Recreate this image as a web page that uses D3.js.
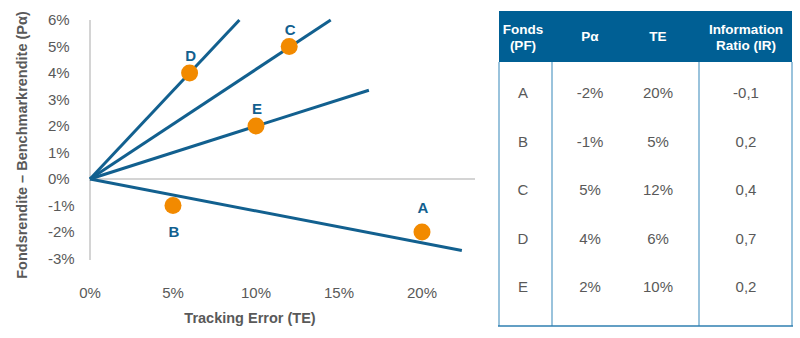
<!DOCTYPE html>
<html>
<head>
<meta charset="utf-8">
<script src="https://cdn.jsdelivr.net/npm/d3@7"></script>
<style>
  body { margin: 0; background: #fff; }
  svg { display: block; font-family: "Liberation Sans", Arial, sans-serif; }
</style>
</head>
<body>
<svg id="chart" width="800" height="338"></svg>
<script>
// funds
const funds = ["A", "B", "C", "D", "E"];
const pAlpha = [-2, -1, 5, 4, 2];
const trackingError = [20, 5, 12, 6, 10];
const infoRatio = ["-0,1", "0,2", "0,4", "0,7", "0,2"];

// ratio lines from the origin (end point TE, Pα)
const lineEndTE = [9, 14.5, 16.8, 22.4];
const lineEndPA = [6, 6, 3.35, -2.7];

const xTicks = [0, 5, 10, 15, 20];
const yTicks = [6, 5, 4, 3, 2, 1, 0, -1, -2, -3];

const tableHeaders = [["Fonds", "(PF)"], ["Pα"], ["TE"], ["Information", "Ratio (IR)"]];

const svg = d3.select("#chart");
const blue = "#12608f";
const orange = "#f28a00";
const grey = "#595959";

const x = d3.scaleLinear().domain([0, 20]).range([90, 422]);
const y = d3.scaleLinear().domain([0, 6]).range([179, 20]);

// axes lines
svg.append("line")
  .attr("x1", x(0)).attr("x2", 475)
  .attr("y1", y(0)).attr("y2", y(0))
  .attr("stroke", "#d4d4d4").attr("stroke-width", 2);
svg.append("line")
  .attr("x1", x(0)).attr("x2", x(0))
  .attr("y1", 20).attr("y2", 260)
  .attr("stroke", "#d4d4d4").attr("stroke-width", 2);

svg.selectAll(".ytick")
  .data(yTicks)
  .enter().append("text")
  .attr("x", 48)
  .attr("y", d => y(d))
  .attr("dy", "0.35em")
  .attr("font-size", "15px")
  .attr("fill", grey)
  .text(d => d + "%");

svg.selectAll(".xtick")
  .data(xTicks)
  .enter().append("text")
  .attr("x", d => x(d))
  .attr("y", 293)
  .attr("dy", "0.35em")
  .attr("text-anchor", "middle")
  .attr("font-size", "15px")
  .attr("fill", grey)
  .text(d => d + "%");

svg.append("text")
  .attr("x", 250).attr("y", 318)
  .attr("dy", "0.35em")
  .attr("text-anchor", "middle")
  .attr("font-size", "14.5px")
  .attr("font-weight", "bold")
  .attr("fill", grey)
  .text("Tracking Error (TE)");

svg.append("text")
  .attr("transform", "translate(22,145) rotate(-90)")
  .attr("dy", "0.35em")
  .attr("text-anchor", "middle")
  .attr("font-size", "14.5px")
  .attr("font-weight", "bold")
  .attr("fill", grey)
  .text("Fondsrendite – Benchmarkrendite (Pα)");

// ratio lines
svg.selectAll(".ratio")
  .data(lineEndTE)
  .enter().append("line")
  .attr("x1", x(0)).attr("y1", y(0))
  .attr("x2", d => x(d))
  .attr("y2", (d, i) => y(lineEndPA[i]))
  .attr("stroke", blue)
  .attr("stroke-width", 3);

// points
svg.selectAll(".pt")
  .data(funds)
  .enter().append("circle")
  .attr("cx", (d, i) => x(trackingError[i]))
  .attr("cy", (d, i) => y(pAlpha[i]))
  .attr("r", 8.5)
  .attr("fill", orange);

svg.selectAll(".ptlabel")
  .data(funds)
  .enter().append("text")
  .attr("x", (d, i) => x(trackingError[i]) + 1)
  .attr("y", (d, i) => y(pAlpha[i]) + (d === "B" ? 26 : d === "A" ? -24 : -17))
  .attr("dy", "0.35em")
  .attr("text-anchor", "middle")
  .attr("font-size", "15px")
  .attr("font-weight", "bold")
  .attr("fill", blue)
  .text(d => d);

// table
const tbl = svg.append("g");
const colX = [499, 552, 699, 792];
const colCenters = [523, 590, 658, 746];
const tblTop = 11, headBottom = 62, tblBottom = 326;

tbl.append("rect")
  .attr("x", colX[0]).attr("y", tblTop)
  .attr("width", colX[3] - colX[0]).attr("height", headBottom - tblTop)
  .attr("fill", "#005f94");

colX.forEach(cx => {
  tbl.append("line")
    .attr("x1", cx).attr("x2", cx)
    .attr("y1", headBottom).attr("y2", tblBottom)
    .attr("stroke", "#9ac3dc").attr("stroke-width", 2);
});
tbl.append("line")
  .attr("x1", colX[0] - 1).attr("x2", colX[3] + 1)
  .attr("y1", tblBottom).attr("y2", tblBottom)
  .attr("stroke", "#2f7fb0").attr("stroke-width", 1.5);

tableHeaders.forEach((lines, i) => {
  const t = tbl.append("text")
    .attr("text-anchor", "middle")
    .attr("font-size", "13.5px")
    .attr("font-weight", "bold")
    .attr("fill", "#fff");
  lines.forEach((ln, j) => {
    t.append("tspan")
      .attr("x", colCenters[i])
      .attr("y", lines.length === 1 ? 36 : 29 + j * 16)
      .attr("dy", "0.35em")
      .text(ln);
  });
});

const rowY = d3.scalePoint().domain(funds).range([93, 287]);
const cols = [funds, pAlpha.map(d => d + "%"), trackingError.map(d => d + "%"), infoRatio];
cols.forEach((col, ci) => {
  tbl.selectAll(".c" + ci)
    .data(col)
    .enter().append("text")
    .attr("x", colCenters[ci])
    .attr("y", (d, i) => rowY(funds[i]))
    .attr("dy", "0.35em")
    .attr("text-anchor", "middle")
    .attr("font-size", "15px")
    .attr("fill", grey)
    .text(d => d);
});
</script>
</body>
</html>
